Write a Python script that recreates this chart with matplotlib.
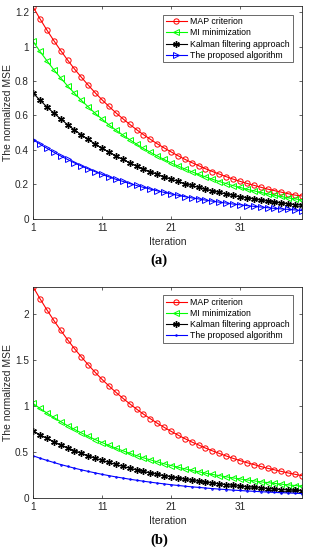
import numpy as np
from matplotlib import pyplot as plt

plt.rcParams['font.family'] = ['Liberation Sans', 'DejaVu Sans']

iterations = list(range(1, 41))

# (a)
map_a = [1.230, 1.161, 1.096, 1.035, 0.977, 0.922, 0.870, 0.822, 0.776, 0.732,
         0.691, 0.653, 0.616, 0.582, 0.549, 0.518, 0.489, 0.462, 0.436, 0.412,
         0.389, 0.367, 0.346, 0.327, 0.309, 0.291, 0.275, 0.260, 0.245, 0.231,
         0.218, 0.206, 0.195, 0.184, 0.173, 0.164, 0.155, 0.146, 0.138, 0.133]
mi_a = [1.030, 0.972, 0.918, 0.866, 0.818, 0.772, 0.729, 0.688, 0.650, 0.613,
        0.579, 0.546, 0.516, 0.487, 0.460, 0.434, 0.409, 0.387, 0.365, 0.345,
        0.325, 0.307, 0.290, 0.274, 0.258, 0.244, 0.230, 0.217, 0.205, 0.193,
        0.183, 0.172, 0.163, 0.154, 0.145, 0.137, 0.130, 0.122, 0.116, 0.110]
kalman_a = [0.730, 0.689, 0.650, 0.614, 0.580, 0.547, 0.516, 0.488, 0.461, 0.434,
            0.410, 0.388, 0.366, 0.345, 0.326, 0.307, 0.290, 0.274, 0.259, 0.245,
            0.231, 0.218, 0.205, 0.194, 0.183, 0.173, 0.163, 0.154, 0.145, 0.137,
            0.129, 0.122, 0.116, 0.109, 0.103, 0.097, 0.092, 0.087, 0.082, 0.080]
prop_a = [0.460, 0.434, 0.410, 0.387, 0.365, 0.345, 0.325, 0.307, 0.290, 0.274,
          0.258, 0.244, 0.230, 0.218, 0.205, 0.194, 0.183, 0.173, 0.163, 0.154,
          0.145, 0.137, 0.129, 0.122, 0.116, 0.109, 0.103, 0.097, 0.092, 0.086,
          0.082, 0.077, 0.073, 0.069, 0.065, 0.061, 0.058, 0.055, 0.052, 0.048]

# (b)
map_b = [2.300, 2.171, 2.050, 1.935, 1.827, 1.724, 1.627, 1.537, 1.451, 1.369,
         1.292, 1.221, 1.152, 1.088, 1.027, 0.969, 0.914, 0.864, 0.815, 0.770,
         0.727, 0.686, 0.647, 0.611, 0.578, 0.544, 0.514, 0.486, 0.458, 0.432,
         0.408, 0.385, 0.365, 0.344, 0.324, 0.307, 0.290, 0.273, 0.258, 0.243]
mi_b = [1.030, 0.976, 0.926, 0.878, 0.832, 0.789, 0.748, 0.709, 0.672, 0.637,
        0.604, 0.573, 0.543, 0.515, 0.488, 0.462, 0.438, 0.416, 0.394, 0.373,
        0.354, 0.336, 0.318, 0.302, 0.286, 0.271, 0.257, 0.244, 0.231, 0.219,
        0.208, 0.197, 0.187, 0.177, 0.168, 0.159, 0.151, 0.143, 0.136, 0.129]
kalman_b = kalman_a
prop_b = prop_a

labels = ['MAP criterion', 'MI minimization', 'Kalman filtering approach',
          'The proposed algorithm']
xticks = [1, 11, 21, 31]

fig = plt.figure(figsize=(3.12, 5.5), dpi=100)
ax1 = fig.add_axes([0.106, 0.602, 0.862, 0.387])
ax2 = fig.add_axes([0.106, 0.0945, 0.862, 0.384])

ms = 3.8
lw = 0.8
asterisk = (6, 2, 0)


def draw(ax, series, last_marker, last_ms, ylim, yticks, yticklabels):
    ax.plot(iterations, series[0], color='r', marker='o', mfc='none', ms=ms, lw=lw, mew=0.7, label=labels[0])
    ax.plot(iterations, series[1], color=(0, 1, 0), marker='<', mfc='none', ms=ms, lw=lw, mew=0.7, label=labels[1])
    ax.plot(iterations, series[2], color='k', marker=asterisk, ms=ms + 1, lw=lw, mew=1.0, label=labels[2])
    ax.plot(iterations, series[3], color='b', marker=last_marker, mfc='none', ms=last_ms, lw=lw, mew=0.7, label=labels[3])
    ax.set_xlim(1, 40)
    ax.set_ylim(*ylim)
    ax.set_xticks(xticks)
    ax.set_yticks(yticks)
    ax.set_yticklabels(yticklabels)
    ax.tick_params(direction='in', length=2.5, width=0.5, labelsize=7.2,
                   colors='#262626', top=True, right=True, pad=3)
    for s in ax.spines.values():
        s.set_linewidth(0.6)
        s.set_color('#262626')
    ax.set_xlabel('Iteration', fontsize=7.5, color='#262626', labelpad=3)
    ax.set_ylabel('The normalized MSE', fontsize=7.5, color='#262626', labelpad=1.5)
    leg = ax.legend(loc='upper right', fontsize=6.3, frameon=True, fancybox=False,
                    edgecolor='#262626', handlelength=2.4, handletextpad=0.4,
                    borderpad=0.3, labelspacing=0.25, borderaxespad=0.0,
                    bbox_to_anchor=(0.965, 0.96))
    leg.get_frame().set_linewidth(0.6)


draw(ax1, [map_a, mi_a, kalman_a, prop_a], '>', ms, (0, 1.235),
     [0, 0.2, 0.4, 0.6, 0.8, 1.0, 1.2], ['0', '0.2', '0.4', '0.6', '0.8', '1', '1.2'])
draw(ax2, [map_b, mi_b, kalman_b, prop_b], '.', 2.2, (0, 2.3),
     [0, 0.5, 1.0, 1.5, 2.0], ['0', '0.5', '1', '1.5', '2'])

fig.text(0.51, 1 - 260 / 550, '(a)', ha='center', va='center', fontsize=10.5,
         fontweight='bold', family=['Liberation Serif', 'DejaVu Serif'])
fig.text(0.51, 1 - 540 / 550, '(b)', ha='center', va='center', fontsize=10.5,
         fontweight='bold', family=['Liberation Serif', 'DejaVu Serif'])

fig.savefig('out.png', dpi=100)
